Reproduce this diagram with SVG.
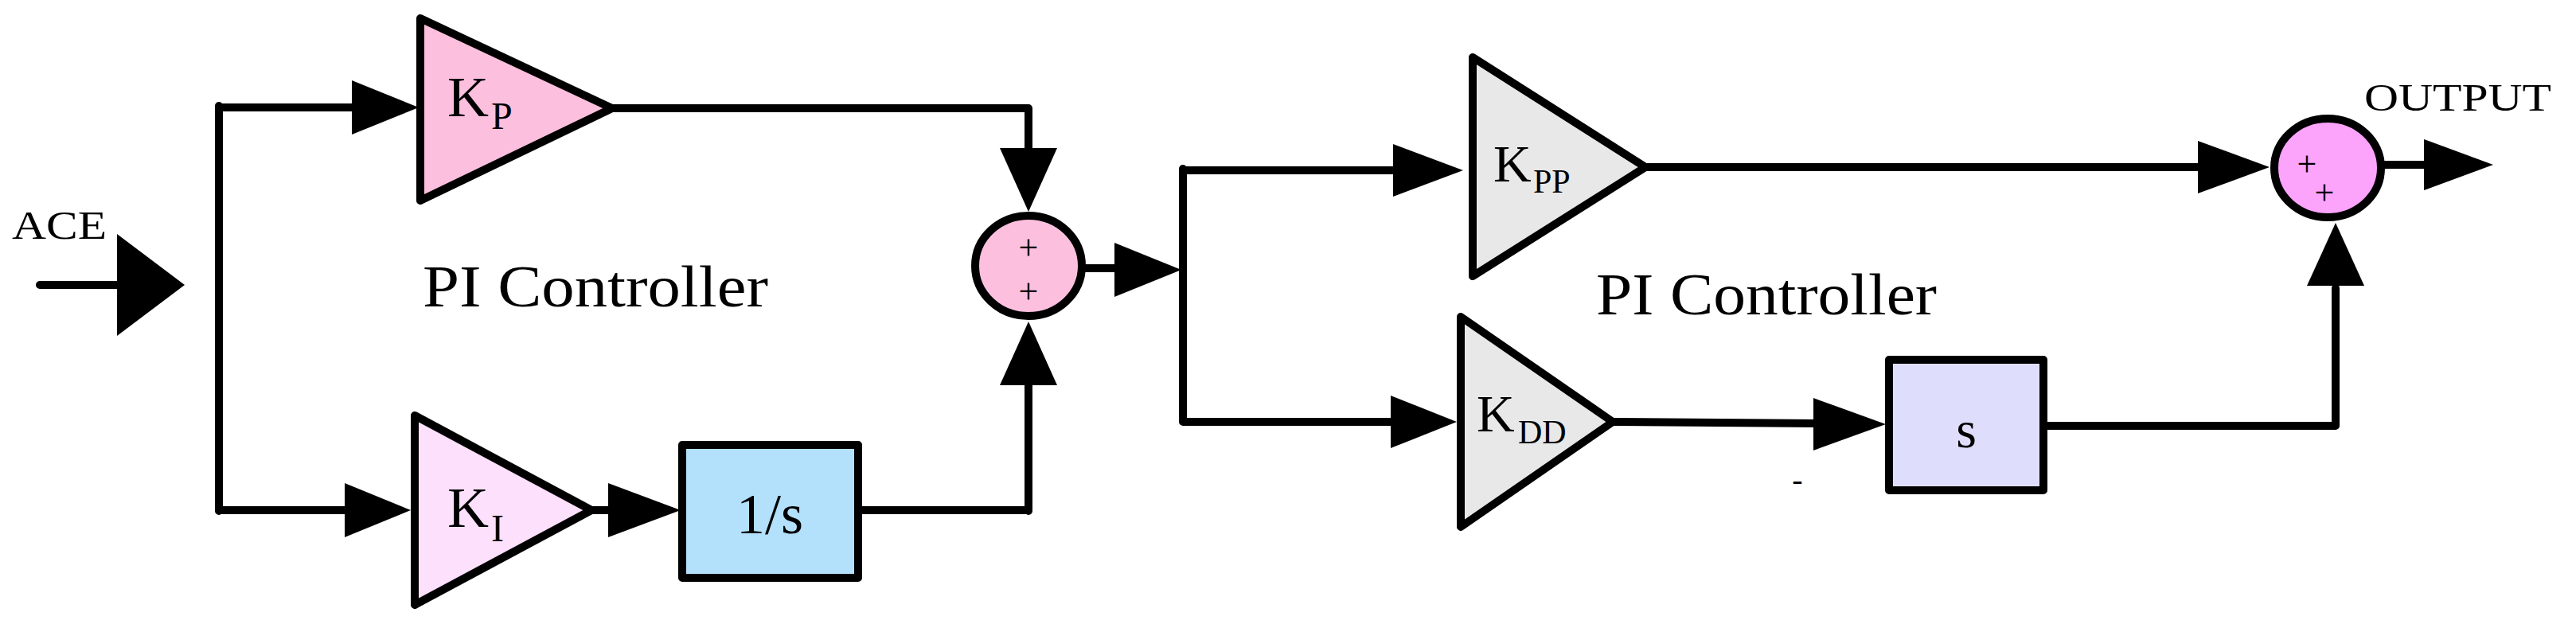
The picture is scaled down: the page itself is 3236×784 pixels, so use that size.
<svg xmlns="http://www.w3.org/2000/svg" width="3236" height="784" viewBox="0 0 3236 784">
<style>
.w{fill:none;stroke:#000;stroke-width:10;stroke-linecap:round;stroke-linejoin:round}
.a{fill:#000;stroke:none}
.n{stroke:#000;stroke-width:10;stroke-linejoin:round}
.t{font-family:"Liberation Serif","Times New Roman",serif;fill:#000}
</style>
<rect width="3236" height="784" fill="#fff"/>
<g id="connectors">
<path class="w" d="M50 358H150M275 133V642M275 135H450M275 641H440M769 136H1292V190M1292 642V480M745 641H770M1078 641H1292M1360 337H1405M1486 212V530M1486 214H1755M1486 530H1752M2026 530L2285 532M2067 210H2765M2996 207H3050M2567 535H2934V362"/>
<polygon class="a" points="147,294 232,358 147,422"/>
<polygon class="a" points="442,101 526,135 442,169"/>
<polygon class="a" points="433,607 516,641 433,675"/>
<polygon class="a" points="1256,186 1292,266 1328,186"/>
<polygon class="a" points="1256,484 1292,404 1328,484"/>
<polygon class="a" points="764,607 855,641 764,675"/>
<polygon class="a" points="1400,305 1484,339 1400,373"/>
<polygon class="a" points="1750,181 1838,214 1750,247"/>
<polygon class="a" points="1747,497 1830,530 1747,563"/>
<polygon class="a" points="2278,500 2369,533 2278,566"/>
<polygon class="a" points="2761,177 2851,210 2761,243"/>
<polygon class="a" points="3045,175 3132,207 3045,239"/>
<polygon class="a" points="2898,359 2934,280 2970,359"/>
</g>
<g id="ace"><text class="t" x="15" y="300" font-size="50" textLength="119" lengthAdjust="spacingAndGlyphs">ACE</text></g>
<g id="kp"><polygon class="n" fill="#fcc0de" points="528,23 769,136 528,252"/>
<text class="t" x="562" y="146" font-size="72">K</text><text class="t" x="617" y="162" font-size="48">P</text></g>
<g id="ki"><polygon class="n" fill="#fde0fb" points="521,522 743,641 521,760"/>
<text class="t" x="562" y="662" font-size="72">K</text><text class="t" x="617" y="680" font-size="48">I</text></g>
<g id="integrator"><rect class="n" fill="#b3e0fb" x="857" y="559" width="221" height="167"/>
<text class="t" x="967" y="670" font-size="72" text-anchor="middle">1/s</text></g>
<g id="sum1"><ellipse class="n" fill="#fcc0de" cx="1292" cy="334" rx="67" ry="63"/>
<text class="t" x="1292" y="326" font-size="44" text-anchor="middle">+</text><text class="t" x="1292" y="381" font-size="44" text-anchor="middle">+</text></g>
<g id="label1"><text class="t" x="531" y="385" font-size="75" textLength="434" lengthAdjust="spacingAndGlyphs">PI Controller</text></g>
<g id="kpp"><polygon class="n" fill="#e8e8e8" points="1850,72 2067,210 1850,347"/>
<text class="t" x="1876" y="228" font-size="66">K</text><text class="t" x="1926" y="242" font-size="42">PP</text></g>
<g id="kdd"><polygon class="n" fill="#e8e8e8" points="1835,398 2026,530 1835,662"/>
<text class="t" x="1855" y="542" font-size="66">K</text><text class="t" x="1907" y="557" font-size="42">DD</text></g>
<g id="deriv"><rect class="n" fill="#dedefc" x="2373" y="452" width="194" height="164"/>
<text class="t" x="2470" y="562" font-size="66" text-anchor="middle">s</text></g>
<g id="minus"><text class="t" x="2258" y="616" font-size="40" text-anchor="middle">-</text></g>
<g id="sum2"><ellipse class="n" fill="#fca3fc" cx="2924" cy="211" rx="67" ry="62"/>
<text class="t" x="2898" y="221" font-size="44" text-anchor="middle">+</text><text class="t" x="2920" y="257" font-size="44" text-anchor="middle">+</text></g>
<g id="label2"><text class="t" x="2005" y="395" font-size="75" textLength="428" lengthAdjust="spacingAndGlyphs">PI Controller</text></g>
<g id="output"><text class="t" x="2970" y="139" font-size="48" textLength="235" lengthAdjust="spacingAndGlyphs">OUTPUT</text></g>
</svg>
